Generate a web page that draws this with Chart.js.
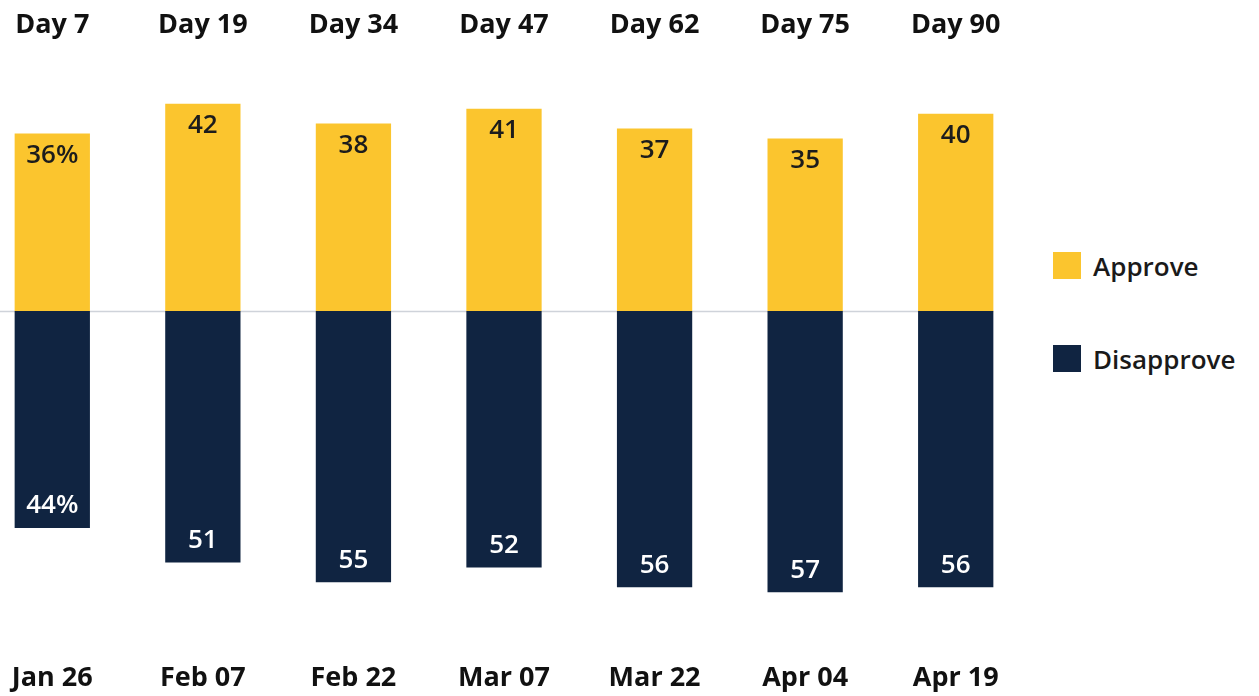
<!DOCTYPE html>
<html>
<head>
<meta charset="utf-8">
<script src="https://cdn.jsdelivr.net/npm/chart.js@4.4.1/dist/chart.umd.min.js"></script>
<style>
	html, body { margin: 0; padding: 0; background: #fff; }
	body { width: 1259px; height: 696px; position: relative; overflow: hidden; font-family: "Open Sans", sans-serif; }
	#wrap { position: absolute; left: -23px; top: -6px; width: 1054px; height: 729px; }
	#legend { position: absolute; left: 1053px; top: 0; }
	.item { position: absolute; left: 0; display: flex; align-items: center; white-space: nowrap; font-size: 26px; font-weight: 600; color: #1a1a1a; }
	.item span.box { display: inline-block; width: 28px; height: 27px; margin-right: 12px; }
</style>
</head>
<body>
<div id="wrap"><canvas id="chart"></canvas></div>
<div id="legend"></div>
<script>
	// البيانات
	const dates = ['Jan 26', 'Feb 07', 'Feb 22', 'Mar 07', 'Mar 22', 'Apr 04', 'Apr 19'];
	const days = ['Day 7', 'Day 19', 'Day 34', 'Day 47', 'Day 62', 'Day 75', 'Day 90'];
	const approve = [36, 42, 38, 41, 37, 35, 40];
	const disapprove = [44, 51, 55, 52, 56, 57, 56];

	const yellow = '#fbc52e';
	const navy = '#102441';
	const tickFont = { size: 27, weight: 'bold', family: '"Open Sans", sans-serif' };

	// legend
	const legendItems = [
		{ label: 'Approve', color: yellow, top: 252 },
		{ label: 'Disapprove', color: navy, top: 345 }
	];
	const legendEl = document.getElementById('legend');
	legendItems.forEach(function (it) {
		const div = document.createElement('div');
		div.className = 'item';
		div.style.top = (it.top - 6) + 'px';
		div.style.height = '39px';
		div.innerHTML = '<span class="box" style="background:' + it.color + '"></span>' + it.label;
		legendEl.appendChild(div);
	});

	// الخط عند الصفر، ينتهي عند آخر عمود
	const zeroLine = {
		id: 'zeroLine',
		beforeDatasetsDraw(chart) {
			const c = chart.ctx;
			const y = Math.round(chart.scales.y.getPixelForValue(0)) + 0.5;
			const bars = chart.getDatasetMeta(0).data;
			const last = bars[bars.length - 1];
			const right = last.x + last.width / 2;
			c.save();
			c.strokeStyle = '#cfd3da';
			c.lineWidth = 1.5;
			c.beginPath();
			c.moveTo(chart.chartArea.left, y);
			c.lineTo(right, y);
			c.stroke();
			c.restore();
		}
	};

	// labels inside the bars
	const barLabels = {
		id: 'barLabels',
		afterDatasetsDraw(chart) {
			const c = chart.ctx;
			c.save();
			c.font = '600 26px "Open Sans", sans-serif';
			c.textAlign = 'center';
			c.textBaseline = 'middle';
			chart.data.datasets.forEach(function (ds, di) {
				chart.getDatasetMeta(di).data.forEach(function (bar, i) {
					const v = Math.abs(ds.data[i]);
					const txt = i === 0 ? v + '%' : String(v);
					if (di === 0) {
						c.fillStyle = '#1c1c1c';
						c.fillText(txt, bar.x, bar.y + 22);
					} else {
						c.fillStyle = '#ffffff';
						c.fillText(txt, bar.x, bar.y - 22);
					}
				});
			});
			c.restore();
		}
	};

	new Chart(document.getElementById('chart'), {
		type: 'bar',
		data: {
			labels: dates,
			datasets: [
				{ label: 'Approve', data: approve, backgroundColor: yellow, borderWidth: 0 },
				{ label: 'Disapprove', data: disapprove.map(v => -v), backgroundColor: navy, borderWidth: 0 }
			]
		},
		options: {
			responsive: true,
			maintainAspectRatio: false,
			animation: false,
			layout: { padding: { top: 0, bottom: 6 } },
			plugins: { legend: { display: false }, tooltip: { enabled: false } },
			datasets: { bar: { barPercentage: 0.5, categoryPercentage: 1 } },
			scales: {
				x: {
					stacked: true,
					grid: { display: false },
					border: { display: false },
					ticks: { color: '#111', font: tickFont, padding: 22.5 }
				},
				x2: {
					type: 'category',
					position: 'top',
					labels: days,
					grid: { display: false },
					border: { display: false },
					ticks: { color: '#111', font: tickFont, padding: 15 }
				},
				y: {
					stacked: true,
					display: false,
					min: -65,
					max: 50
				}
			}
		},
		plugins: [zeroLine, barLabels]
	});
</script>
</body>
</html>
